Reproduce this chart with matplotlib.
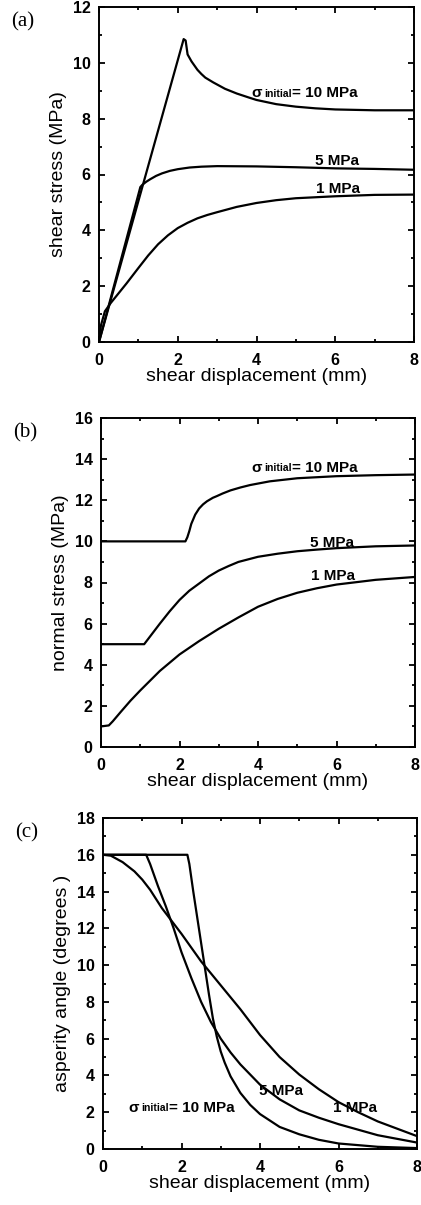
import numpy as np
import matplotlib.pyplot as plt
from matplotlib.ticker import MultipleLocator

plt.rcParams['font.family'] = ['Liberation Sans', 'DejaVu Sans']

# (a) shear stress vs shear displacement
a_x10 = [0, 2.15, 2.2, 2.25, 2.35, 2.5, 2.6, 2.7, 2.9, 3.2, 3.5, 3.8, 4.0, 4.5, 5.0, 5.5, 6.0, 7.0, 8.0]
a_y10 = [0, 10.85, 10.8, 10.3, 10.05, 9.75, 9.6, 9.47, 9.3, 9.07, 8.9, 8.76, 8.67, 8.52, 8.43, 8.37, 8.33, 8.3, 8.3]
a_x5 = [0, 1.05, 1.1, 1.2, 1.3, 1.45, 1.6, 1.8, 2.0, 2.3, 2.6, 3.0, 4.0, 5.0, 6.0, 7.0, 8.0]
a_y5 = [0, 5.55, 5.63, 5.74, 5.83, 5.95, 6.04, 6.13, 6.19, 6.25, 6.28, 6.3, 6.29, 6.26, 6.22, 6.2, 6.17]
a_x1 = [0, 0.05, 0.15, 0.3, 0.5, 0.7, 1.0, 1.25, 1.5, 1.75, 2.0, 2.25, 2.5, 2.75, 3.0, 3.5, 4.0, 4.5, 5.0, 6.0, 7.0, 8.0]
a_y1 = [0, 0.6, 1.1, 1.4, 1.75, 2.1, 2.65, 3.1, 3.5, 3.82, 4.08, 4.27, 4.43, 4.55, 4.65, 4.84, 4.98, 5.08, 5.15, 5.22, 5.27, 5.28]

# (b) normal stress vs shear displacement
b_x10 = [0, 2.15, 2.2, 2.25, 2.3, 2.4, 2.5, 2.6, 2.7, 2.85, 2.95, 3.1, 3.3, 3.55, 3.8, 4.3, 5.0, 6.0, 7.0, 8.0]
b_y10 = [10, 10, 10.2, 10.5, 10.85, 11.3, 11.6, 11.8, 11.95, 12.12, 12.2, 12.33, 12.48, 12.62, 12.74, 12.92, 13.07, 13.17, 13.22, 13.25]
b_x5 = [0, 1.1, 1.2, 1.3, 1.5, 1.75, 2.0, 2.25, 2.5, 2.75, 3.0, 3.25, 3.5, 4.0, 4.5, 5.0, 5.5, 6.0, 7.0, 8.0]
b_y5 = [5, 5, 5.25, 5.5, 6.0, 6.6, 7.15, 7.6, 7.95, 8.3, 8.58, 8.8, 9.0, 9.25, 9.4, 9.52, 9.6, 9.67, 9.76, 9.8]
b_x1 = [0, 0.2, 0.3, 0.5, 0.75, 1.0, 1.5, 2.0, 2.5, 3.0, 3.5, 4.0, 4.5, 5.0, 5.5, 6.0, 7.0, 8.0]
b_y1 = [1, 1.05, 1.25, 1.7, 2.25, 2.75, 3.7, 4.5, 5.15, 5.75, 6.3, 6.82, 7.2, 7.5, 7.72, 7.9, 8.13, 8.27]

# (c) asperity angle vs shear displacement
c_x10 = [0, 2.15, 2.2, 2.3, 2.4, 2.5, 2.6, 2.7, 2.8, 2.9, 3.0, 3.1, 3.25, 3.5, 3.75, 4.0, 4.5, 5.0, 5.5, 6.0, 7.0, 8.0]
c_y10 = [16, 16, 15.5, 14.0, 12.6, 11.2, 9.8, 8.4, 7.1, 6.1, 5.3, 4.7, 3.95, 3.05, 2.4, 1.9, 1.2, 0.8, 0.5, 0.3, 0.12, 0.05]
c_x5 = [0, 1.1, 1.2, 1.3, 1.4, 1.5, 1.6, 1.8, 2.0, 2.25, 2.5, 2.75, 3.0, 3.25, 3.5, 4.0, 4.5, 5.0, 5.5, 6.0, 7.0, 8.0]
c_y5 = [16, 16, 15.5, 14.9, 14.3, 13.75, 13.2, 12.0, 10.7, 9.3, 8.0, 6.9, 6.0, 5.25, 4.6, 3.5, 2.7, 2.1, 1.7, 1.35, 0.75, 0.35]
c_x1 = [0, 0.2, 0.5, 0.8, 1.0, 1.2, 1.5, 1.75, 2.0, 2.25, 2.5, 2.75, 3.0, 3.5, 4.0, 4.5, 5.0, 5.5, 6.0, 6.5, 7.0, 8.0]
c_y1 = [16, 15.95, 15.6, 15.1, 14.65, 14.1, 13.1, 12.4, 11.7, 10.95, 10.2, 9.55, 8.9, 7.6, 6.2, 5.0, 4.05, 3.25, 2.55, 2.0, 1.5, 0.7]

W, H = 421, 1205
fig = plt.figure(figsize=(W / 100, H / 100), dpi=100)

def make_axes(left, top, right, bottom):
    return fig.add_axes([left / W, 1 - bottom / H, (right - left) / W, (bottom - top) / H])

def sigma_label(ax, x, y):
    # sigma, small "initial" on the same baseline, then "= 10 MPa"
    t1 = ax.text(x, y, '\u03c3', fontsize=11, fontweight='bold', va='baseline')
    t2 = ax.annotate('initial', xy=(1, 0), xycoords=t1, xytext=(1.5, 1),
                     textcoords='offset points', fontsize=7.5, fontweight='bold', va='bottom')
    ax.annotate('= 10 MPa', xy=(1, 0), xycoords=t2, xytext=(0, -1),
                textcoords='offset points', fontsize=11, fontweight='bold', va='bottom')

panels = [
    (make_axes(99, 7, 414, 342), 12, 'shear stress (MPa)', '(a)',
     [(a_x10, a_y10), (a_x5, a_y5), (a_x1, a_y1)],
     [(3.88, 8.78), (5.48, 6.34), (5.5, 5.33)]),
    (make_axes(101, 418, 415, 747), 16, 'normal stress (MPa)', '(b)',
     [(b_x10, b_y10), (b_x5, b_y5), (b_x1, b_y1)],
     [(3.84, 13.39), (5.32, 9.74), (5.34, 8.12)]),
    (make_axes(103, 818, 417, 1149), 18, 'asperity angle (degrees )', '(c)',
     [(c_x10, c_y10), (c_x5, c_y5), (c_x1, c_y1)],
     [(0.65, 2.03), (3.98, 2.94), (5.87, 2.03)]),
]

for ax, ymax, ylab, tag, series, pos in panels:
    for xs, ys in series:
        ax.plot(xs, ys, color='black', lw=1.6)
    ax.set_xlim(0, 8)
    ax.set_ylim(0, ymax)
    ax.xaxis.set_major_locator(MultipleLocator(2))
    ax.xaxis.set_minor_locator(MultipleLocator(1))
    ax.yaxis.set_major_locator(MultipleLocator(2))
    ax.yaxis.set_minor_locator(MultipleLocator(1))
    ax.tick_params(which='both', direction='in', top=True, right=True, width=1.3)
    ax.tick_params(which='major', length=4, labelsize=11.5, pad=6)
    ax.tick_params(which='minor', length=2.5)
    ax.tick_params(axis='x', which='major', pad=8)
    for t in ax.get_xticklabels() + ax.get_yticklabels():
        t.set_fontweight('bold')
    for s in ax.spines.values():
        s.set_linewidth(1.4)
    ax.set_xlabel('shear displacement (mm)', fontsize=14, labelpad=0)
    ax.set_ylabel(ylab, fontsize=14, labelpad=4)
    sigma_label(ax, *pos[0])
    ax.text(pos[1][0], pos[1][1], '5 MPa', fontsize=11, fontweight='bold', va='baseline')
    ax.text(pos[2][0], pos[2][1], '1 MPa', fontsize=11, fontweight='bold', va='baseline')
    ax.text(-0.28, 0.985, tag, transform=ax.transAxes, fontsize=15,
            family='Liberation Serif', ha='left', va='top')

fig.savefig('out.png', dpi=100)
